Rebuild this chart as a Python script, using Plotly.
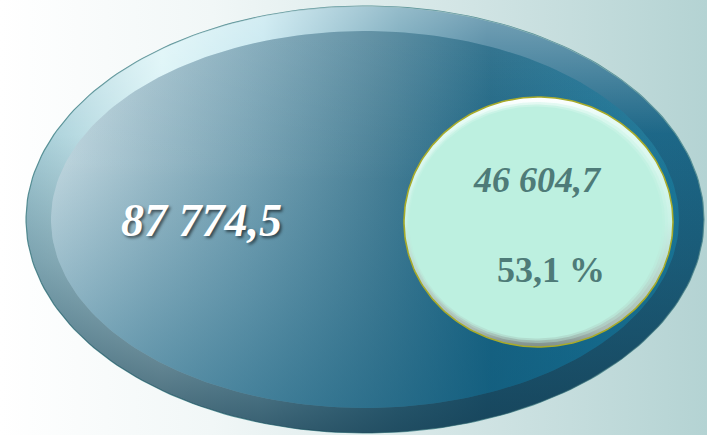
import numpy as np
import plotly.graph_objects as go

# ---- data (values shown on the picture) ----
total_labels = ["87 774,5"]
part_labels = ["46 604,7"]
share_labels = ["53,1 %"]

W, H = 707, 435


def ellipse(cx, cy, rx, ry, n=240):
    t = np.linspace(0, 2 * np.pi, n)
    return cx + rx * np.cos(t), cy + ry * np.sin(t)


def flip(cs):
    # vertical gradients run bottom->top on the reversed pixel axis
    return [[round(1 - p, 4), c] for p, c in reversed(cs)]


def overlay(fig, xs, ys, rgb, stops):
    cs = [[p, f"rgba({rgb},{a})"] for p, a in stops]
    fig.add_trace(go.Scatter(
        x=xs, y=ys, mode="lines", fill="toself", line=dict(width=0),
        hoverinfo="skip", showlegend=False,
        fillgradient=dict(type="vertical", colorscale=flip(cs))))


fig = go.Figure()

# background
fig.add_trace(go.Scatter(
    x=[0, W, W, 0, 0], y=[0, 0, H, H, 0], mode="lines", fill="toself",
    line=dict(width=0), hoverinfo="skip", showlegend=False,
    fillgradient=dict(type="horizontal",
                      colorscale=[[0, "#ffffff"], [0.3, "#f1f7f7"], [1, "#b4d3d3"]])))

# outer rim of big ellipse
ox, oy = ellipse(365, 219.5, 339, 213.5)
fig.add_trace(go.Scatter(
    x=ox, y=oy, mode="lines", fill="toself", line=dict(width=1.2, color="#5a9398"),
    hoverinfo="skip", showlegend=False,
    fillgradient=dict(type="horizontal",
                      colorscale=[[0, "#a5ccd6"], [0.2, "#d8f3f6"], [0.35, "#b9e2ec"],
                                  [0.55, "#5090a8"], [0.68, "#22698a"], [1, "#1c6787"]])))
overlay(fig, ox, oy, "255,255,255", [[0, 0.4], [0.3, 0], [1, 0]])
overlay(fig, ox, oy, "20,60,80", [[0, 0], [0.3, 0], [0.6, 0.3], [1, 0.8]])

# body of big ellipse
bx, by = ellipse(365, 219.5, 314, 188.5)
fig.add_trace(go.Scatter(
    x=bx, y=by, mode="lines", fill="toself", line=dict(width=0),
    hoverinfo="skip", showlegend=False,
    fillgradient=dict(type="horizontal",
                      colorscale=[[0, "#c8dce3"], [0.16, "#a0bfcb"], [0.32, "#7ba5b6"],
                                  [0.52, "#4c8298"], [0.7, "#1c6482"], [0.85, "#1a6e8f"],
                                  [1, "#1c7898"]])))
overlay(fig, bx, by, "255,255,255", [[0, 0.12], [0.4, 0], [1, 0]])
overlay(fig, bx, by, "10,90,125", [[0, 0], [0.35, 0.05], [0.7, 0.28], [1, 0.5]])

# inner (mint) ellipse
ix, iy = ellipse(538.5, 222, 134.5, 125)
fig.add_trace(go.Scatter(
    x=ix, y=iy, mode="lines", fill="toself", line=dict(width=0),
    hoverinfo="skip", showlegend=False,
    fillgradient=dict(type="vertical",
                      colorscale=flip([[0, "#ffffff"], [0.08, "#e6fbf5"], [0.5, "#c9f2e6"],
                                       [0.93, "#a9bab4"], [1, "#7f8e8a"]]))))
for dx, dy, drx, dry, a in [(-1, 0.5, -4, -4.5, 0.35), (-2, 0.5, -6, -7, 0.6),
                            (-2.5, 0.5, -8, -9, 1.0)]:
    jx, jy = ellipse(538.5 + dx, 222 + dy, 134.5 + drx, 125 + dry)
    fig.add_trace(go.Scatter(
        x=jx, y=jy, mode="lines", fill="toself", line=dict(width=0),
        fillcolor=f"rgba(189,240,224,{a})", hoverinfo="skip", showlegend=False))
fig.add_trace(go.Scatter(
    x=ix, y=iy, mode="lines", line=dict(width=1.6, color="#a8ab2a"),
    hoverinfo="skip", showlegend=False))

serif = "Liberation Serif, Times New Roman, serif"
fig.add_annotation(x=201, y=220, text=total_labels[0], showarrow=False,
                   font=dict(family=serif, size=46, color="#ffffff", weight="bold",
                             style="italic", shadow="2px 2px 3px rgba(0,0,0,0.55)"))
fig.add_annotation(x=537, y=180, text=part_labels[0], showarrow=False,
                   font=dict(family=serif, size=36, color="#4e7b78", weight="bold",
                             style="italic"))
fig.add_annotation(x=551, y=270, text=share_labels[0], showarrow=False,
                   font=dict(family=serif, size=36, color="#4e7b78", weight="bold"))

fig.update_layout(
    width=W, height=H, margin=dict(l=0, r=0, t=0, b=0),
    paper_bgcolor="#ffffff", plot_bgcolor="#ffffff", showlegend=False,
    xaxis=dict(range=[0, W], visible=False, fixedrange=True),
    yaxis=dict(range=[H, 0], visible=False, fixedrange=True),
)
fig.write_html("out.html", config={"displayModeBar": False},
               post_script="document.body.style.margin='0';"
                           "document.body.style.overflow='hidden';")
